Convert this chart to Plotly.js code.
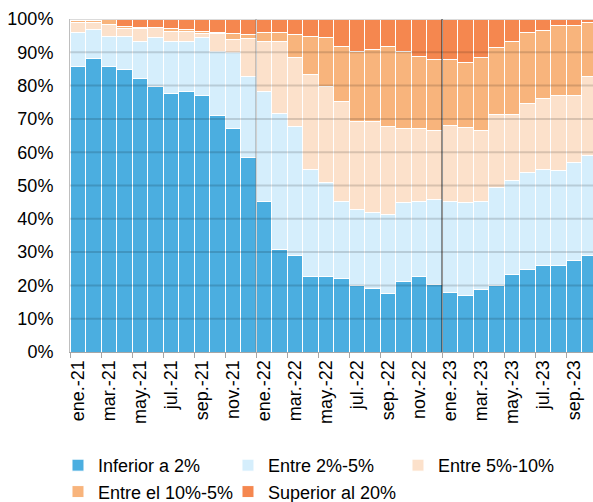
<!DOCTYPE html>
<html>
<head>
<meta charset="utf-8">
<script src="https://cdn.plot.ly/plotly-3.0.1.min.js"></script>
<style>html,body{margin:0;padding:0;background:#fff;}#chart{width:593px;height:502px;}</style>
</head>
<body>
<div id="chart"></div>
<script>
const months = ["ene.-21","feb.-21","mar.-21","abr.-21","may.-21","jun.-21","jul.-21","ago.-21","sep.-21","oct.-21","nov.-21","dic.-21",
  "ene.-22","feb.-22","mar.-22","abr.-22","may.-22","jun.-22","jul.-22","ago.-22","sep.-22","oct.-22","nov.-22","dic.-22",
  "ene.-23","feb.-23","mar.-23","abr.-23","may.-23","jun.-23","jul.-23","ago.-23","sep.-23","oct.-23"];

const inferior2 = [85.7,88.2,85.7,84.7,82.1,79.7,77.5,78.1,77.0,71.0,67.0,58.3,
  45.3,30.7,29.1,22.6,22.6,22.1,20.1,19.1,17.5,21.1,22.6,20.2,
  17.9,16.9,18.9,19.9,23.4,24.8,25.9,25.9,27.4,28.9];
const entre2_5 = [10.2,8.7,9.1,10.1,11.2,14.6,15.8,15.2,17.3,19.2,22.9,24.5,
  33.0,41.0,38.6,32.3,28.2,23.2,22.7,22.9,23.9,23.9,22.7,25.7,
  27.4,28.1,26.4,29.6,28.0,29.2,28.9,28.5,29.4,30.1];
const entre5_10 = [3.0,2.2,3.6,2.2,3.9,3.0,3.0,2.8,1.3,5.4,4.0,11.2,
  15.0,21.6,20.6,28.3,29.0,29.8,26.3,27.1,26.3,22.2,21.9,20.7,
  22.6,22.5,21.3,21.9,20.0,20.5,21.2,22.6,20.2,23.6];
const entre10_5 = [0.6,0.6,1.4,0.7,0.3,0.2,0.9,0.6,0.6,0.4,1.8,1.4,
  2.7,2.7,7.0,11.6,14.6,16.7,21.2,21.8,24.1,23.1,21.6,21.3,
  20.0,19.4,21.9,20.0,21.9,21.4,20.4,20.9,20.9,16.3];
const superior20 = [0.5,0.3,0.2,2.3,2.5,2.5,2.8,3.3,3.8,4.0,4.3,4.6,
  4.0,4.0,4.7,5.2,5.6,8.2,9.7,9.1,8.2,9.7,11.2,12.1,
  12.1,13.1,11.5,8.6,6.7,4.1,3.6,2.1,2.1,1.1];

const seriesNames = ["Inferior a 2%","Entre 2%-5%","Entre 5%-10%","Entre el 10%-5%","Superior al 20%"];
const seriesValues = [inferior2, entre2_5, entre5_10, entre10_5, superior20];
const seriesColors = ["#4BAEE0","#D5EEFC","#FCE1CB","#F8B47C","#F5874F"];

const traces = seriesValues.map((vals, i) => ({
  type: "bar",
  x: months,
  y: vals,
  name: seriesNames[i],
  marker: {color: seriesColors[i], line: {color: "#ffffff", width: 1}},
  hoverinfo: "x+y+name"
}));

const gridValues = [10,20,30,40,50,60,70,80,90,100];
const shapes = gridValues.map(v => ({
  type: "line", xref: "paper", yref: "y", x0: 0, x1: 1, y0: v, y1: v,
  line: {color: "rgba(0,0,0,0.14)", width: 2}, layer: "above"
}));
shapes.push({type: "line", xref: "x", yref: "paper", x0: 11.5, x1: 11.5, y0: 0, y1: 1,
  line: {color: "rgba(120,120,120,0.35)", width: 2}, layer: "above"});
shapes.push({type: "line", xref: "x", yref: "paper", x0: 23.5, x1: 23.5, y0: 0, y1: 1,
  line: {color: "rgba(0,0,0,0.42)", width: 2}, layer: "above"});

const layout = {
  width: 593, height: 502,
  margin: {l: 70, r: 0, t: 19, b: 150, pad: 0},
  paper_bgcolor: "#ffffff", plot_bgcolor: "#ffffff",
  barmode: "stack", bargap: 0,
  font: {family: "Liberation Sans, Arial, sans-serif", size: 18, color: "#000000"},
  xaxis: {
    type: "category", range: [-0.5, 33.24], automargin: false,
    tickmode: "linear", tick0: 0, dtick: 2, tickson: "boundaries",
    tickangle: -90, ticks: "outside", ticklen: 5, tickcolor: "#a6a6a6", tickwidth: 1,
    showline: true, linecolor: "#a6a6a6", linewidth: 1,
    showgrid: false, zeroline: false, fixedrange: true,
    tickfont: {size: 18, color: "#000000"}
  },
  yaxis: {
    range: [0, 100], tickmode: "linear", tick0: 0, dtick: 10, ticksuffix: "%",
    showgrid: false, zeroline: false, showline: true, linecolor: "#bfbfbf", linewidth: 1,
    ticks: "", ticklabelstandoff: 12, automargin: false, fixedrange: true,
    tickfont: {size: 18, color: "#000000"}
  },
  showlegend: true,
  legend: {
    orientation: "h", xref: "container", x: 0.0978, xanchor: "left",
    yref: "container", y: 0.1096, yanchor: "top",
    entrywidth: 125, entrywidthmode: "pixels", traceorder: "normal",
    font: {size: 18, color: "#000000"}, itemwidth: 30
  },
  shapes: shapes
};

Plotly.newPlot("chart", traces, layout, {displayModeBar: false, staticPlot: true});
</script>
</body>
</html>
